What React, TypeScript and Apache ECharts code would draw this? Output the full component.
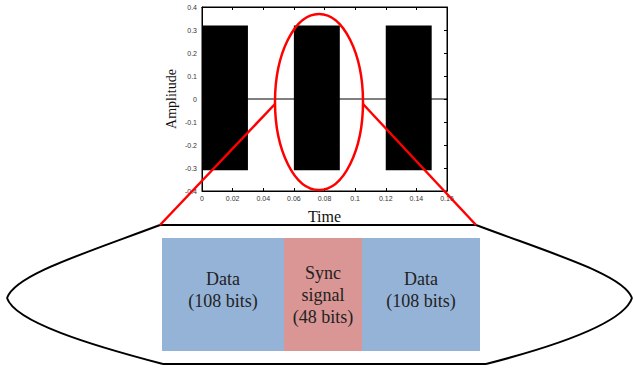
import React, { useEffect, useRef } from "react";
import * as echarts from "echarts";

// Signal bursts (time in s, amplitude)
const burstStart = [0, 0.06, 0.12];
const burstEnd = [0.03, 0.09, 0.15];
const burstHigh = [0.32, 0.32, 0.32];
const burstLow = [-0.31, -0.31, -0.31];
// Quiet baseline between bursts
const baselineTime = [0, 0.16];
const baselineAmp = [0, 0];
// Axis ticks
const xMin = 0, xMax = 0.16, xStep = 0.02;
const yMin = -0.4, yMax = 0.4, yStep = 0.1;
// Frame structure
const frameNames = ["Data\n(108 bits)", "Sync\nsignal\n(48 bits)", "Data\n(108 bits)"];

export default function App() {
  const ref = useRef<HTMLDivElement>(null);
  useEffect(() => {
    if (!ref.current) return;
    const chart = echarts.init(ref.current, null, { renderer: "svg" });
    const serif = "Liberation Serif";
    const burstData = burstStart.map((s, i) => [s, burstEnd[i], burstHigh[i], burstLow[i]]);
    const baseData = baselineTime.map((t, i) => [t, baselineAmp[i]]);

    const boxX = [162, 284, 362, 480];
    const boxColors = ["#95b3d7", "#d99694", "#95b3d7"];
    const textY = [290, 295, 290];
    const boxTop = 238, boxBottom = 351;
    const boxGraphics: any[] = [];
    frameNames.forEach((name, i) => {
      boxGraphics.push({
        type: "rect",
        shape: { x: boxX[i], y: boxTop, width: boxX[i + 1] - boxX[i], height: boxBottom - boxTop },
        style: { fill: boxColors[i] },
      });
      boxGraphics.push({
        type: "text",
        x: (boxX[i] + boxX[i + 1]) / 2,
        y: textY[i],
        style: {
          text: name,
          fill: "#222",
          fontFamily: serif,
          fontSize: 18,
          align: "center",
          verticalAlign: "middle",
          lineHeight: 22,
        },
      });
    });

    const axisLabel = { color: "#333", fontSize: 7, fontFamily: "Liberation Sans" };
    const tick = { show: true, inside: true, length: 3, lineStyle: { color: "#000" } };
    const line = { show: true, onZero: false, lineStyle: { color: "#000" } };
    const curve = { stroke: "#000", lineWidth: 2, fill: "none" };
    chart.setOption({
      animation: false,
      grid: { left: 202, right: 187, top: 7, bottom: 181, show: true, borderColor: "#000", borderWidth: 1 },
      xAxis: [
        {
          type: "value", min: xMin, max: xMax, interval: xStep,
          name: "Time", nameLocation: "middle", nameGap: 17,
          nameTextStyle: { fontFamily: serif, fontSize: 16, color: "#111" },
          axisLine: line, axisTick: tick,
          axisLabel: { ...axisLabel, margin: 4, formatter: (v: number) => (v === 0 ? "0" : String(+v.toFixed(2))) },
          splitLine: { show: false },
        },
        {
          type: "value", min: xMin, max: xMax, interval: xStep, position: "top",
          axisLine: line, axisTick: tick, axisLabel: { show: false }, splitLine: { show: false },
        },
      ],
      yAxis: [
        {
          type: "value", min: yMin, max: yMax, interval: yStep,
          name: "Amplitude", nameLocation: "middle", nameGap: 24,
          nameTextStyle: { fontFamily: serif, fontSize: 14, color: "#111" },
          axisLine: line, axisTick: tick,
          axisLabel: { ...axisLabel, margin: 5, formatter: (v: number) => (Math.abs(v) < 1e-9 ? "0" : String(+v.toFixed(1))) },
          splitLine: { show: false },
        },
        {
          type: "value", min: yMin, max: yMax, interval: yStep, position: "right",
          axisLine: line, axisTick: tick, axisLabel: { show: false }, splitLine: { show: false },
        },
      ],
      series: [
        {
          type: "line", data: baseData, symbol: "none",
          lineStyle: { color: "#000", width: 1 }, z: 1,
        },
        {
          type: "custom", data: burstData, encode: { x: [0, 1], y: [2, 3] }, z: 2,
          renderItem: (_p: any, api: any) => {
            const a = api.coord([api.value(0), api.value(2)]);
            const b = api.coord([api.value(1), api.value(3)]);
            return {
              type: "rect",
              shape: { x: a[0], y: a[1], width: b[0] - a[0], height: b[1] - a[1] },
              style: { fill: "#000" },
            };
          },
        },
      ],
      graphic: [
        { type: "line", shape: { x1: 160, y1: 225, x2: 476, y2: 225 }, style: { stroke: "#000", lineWidth: 2 } },
        { type: "line", shape: { x1: 163, y1: 364, x2: 486, y2: 364 }, style: { stroke: "#000", lineWidth: 2 } },
        { type: "bezierCurve", shape: { x1: 160, y1: 225, cpx1: 80, cpy1: 255, cpx2: 15, cpy2: 275, x2: 7, y2: 298 }, style: curve },
        { type: "bezierCurve", shape: { x1: 7, y1: 298, cpx1: 15, cpy1: 322, cpx2: 90, cpy2: 345, x2: 163, y2: 364 }, style: curve },
        { type: "bezierCurve", shape: { x1: 476, y1: 225, cpx1: 556, cpy1: 255, cpx2: 624, cpy2: 275, x2: 632, y2: 298 }, style: curve },
        { type: "bezierCurve", shape: { x1: 632, y1: 298, cpx1: 624, cpy1: 322, cpx2: 560, cpy2: 345, x2: 486, y2: 364 }, style: curve },
        ...boxGraphics,
        { type: "ellipse", shape: { cx: 319, cy: 102, rx: 44, ry: 88 }, style: { stroke: "#ff0000", lineWidth: 2.5, fill: "none" }, z: 100 },
        { type: "line", shape: { x1: 275, y1: 104, x2: 160, y2: 225 }, style: { stroke: "#ff0000", lineWidth: 2.5 }, z: 100 },
        { type: "line", shape: { x1: 363, y1: 104, x2: 476, y2: 225 }, style: { stroke: "#ff0000", lineWidth: 2.5 }, z: 100 },
      ],
    });
    return () => chart.dispose();
  }, []);
  return <div ref={ref} style={{ width: 634, height: 372, position: "absolute", left: 0, top: 0 }} />;
}
